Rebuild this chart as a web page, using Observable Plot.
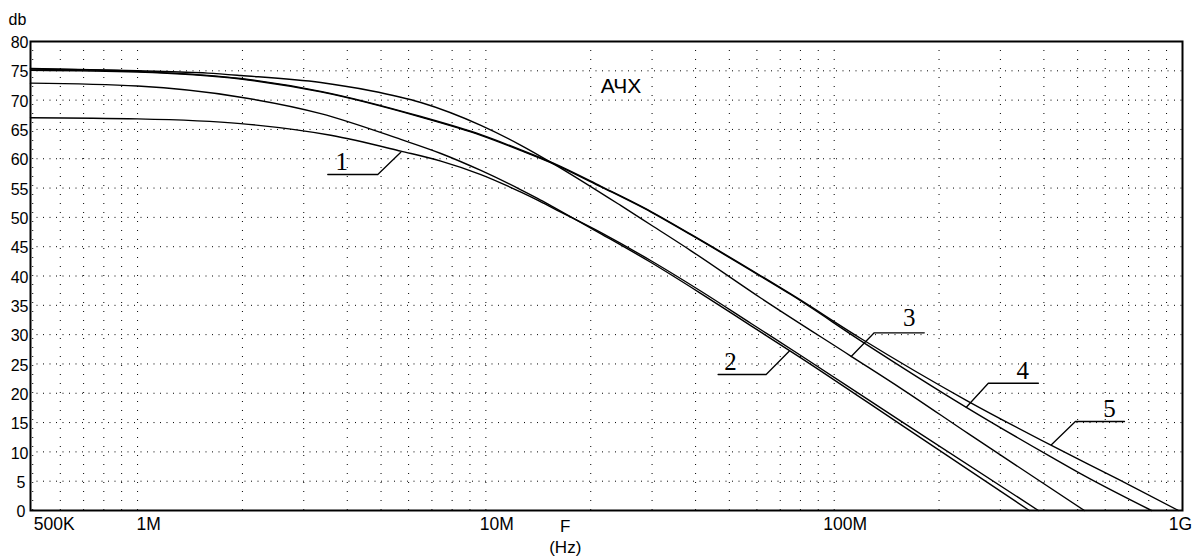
<!DOCTYPE html>
<html>
<head>
<meta charset="utf-8">
<script src="https://cdn.jsdelivr.net/npm/d3@7"></script>
<script src="https://cdn.jsdelivr.net/npm/@observablehq/plot@0.6"></script>
<style>
  html, body { margin: 0; padding: 0; background: #fff; }
  #chart svg { display: block; }
</style>
</head>
<body>
<div id="chart"></div>
<script>
// ---- Data: frequency (Hz), gain (dB) ----
const curve1 = [[4.927e5,67.0],[1e6,66.8],[1.977e6,66.0],[3.586e6,64.0],[5.698e6,61.3],[7.426e6,59.6],[9.674e6,57.3],[1.261e7,54.3],[1.411e7,52.9],[1.568e7,51.5],[2.141e7,47.4],[2.980e7,42.6],[4.147e7,37.4],[5.774e7,31.9],[8.040e7,26.4],[1.558e8,15.2],[3.857e8,0]];
const curve2 = [[4.927e5,72.9],[1e6,72.4],[1.977e6,70.5],[3.357e6,67.7],[5.698e6,63.3],[7.426e6,60.9],[9.674e6,58.0],[1.261e7,54.7],[1.411e7,53.2],[1.568e7,51.7],[2.141e7,47.2],[2.980e7,42.3],[4.147e7,37.0],[5.774e7,31.5],[8.040e7,26.0],[1.558e8,14.6],[3.634e8,0]];
const curve3 = [[4.927e5,75.4],[1e6,75.0],[1.589e6,74.6],[1.977e6,74.2],[3.357e6,73.0],[4.672e6,71.6],[6.505e6,69.6],[9.674e6,65.7],[1.261e7,62.3],[1.568e7,59.1],[2.443e7,52.0],[2.980e7,48.7],[3.882e7,44.3],[6.169e7,36.2],[1.119e8,26.3],[1.558e8,20.8],[2.427e8,13.1],[5.228e8,0]];
const curve4 = [[4.927e5,75.1],[1e6,74.8],[1.977e6,73.6],[3.357e6,71.4],[6.505e6,67.1],[9.674e6,64.0],[1.261e7,61.4],[1.568e7,59.1],[2.141e7,55.2],[2.980e7,50.9],[3.882e7,47.0],[6.169e7,39.9],[7.521e7,36.8],[1.196e8,28.9],[2.395e8,17.6],[4.204e8,9.1],[5.125e8,6.2],[8.145e8,0]];
const curve5 = [[4.927e5,75.3],[1e6,74.9],[1.977e6,73.7],[3.357e6,71.5],[6.505e6,67.2],[9.674e6,64.1],[1.261e7,61.5],[1.568e7,59.2],[2.141e7,55.3],[2.980e7,51.0],[3.882e7,47.1],[6.169e7,40.0],[7.521e7,36.9],[1.196e8,29.3],[2.395e8,18.8],[4.204e8,11.1],[6.550e8,5.3],[9.739e8,0]];

// curve labels and their leader lines (data coordinates)
const labelNames = ["1","2","3","4","5"];
const labelPos = [[3.855e6,59.45],[5.042e7,25.33],[1.643e8,32.92],[3.481e8,23.80],[6.17e8,17.31]];
const leaders = [
  [[3.516e6,57.31],[4.894e6,57.31],[5.698e6,61.12]],
  [[4.642e7,23.20],[6.377e7,23.20],[7.425e7,27.17]],
  [[1.814e8,30.31],[1.303e8,30.31],[1.119e8,26.27]],
  [[3.857e8,21.71],[2.770e8,21.71],[2.395e8,17.62]],
  [[6.815e8,15.18],[4.925e8,15.18],[4.204e8,11.21]]
];

// axes
const xDomain = [4.927e5, 1e9];
const yDomain = [0, 80];
const xLabelValues = [5e5, 1e6, 1e7, 1e8, 1e9];
const xLabelTexts = ["500K", "1M", "10M", "100M", "1G"];
const yTicks = d3.range(0, 81, 5);
const xGrid = [];
for (let m = 5; m <= 9; m++) xGrid.push(m * 1e5);
for (const dec of [1e6, 1e7, 1e8]) for (let m = 1; m <= 9; m++) xGrid.push(m * dec);
xGrid.push(1e9);
const titleText = "АЧХ";
const titlePos = [2.443e7, 72.3];

const xl = xLabelValues.map((v, i) => ({v, t: xLabelTexts[i]}));

const chart = Plot.plot({
  width: 1199,
  height: 559,
  marginLeft: 30,
  marginRight: 17,
  marginTop: 41,
  marginBottom: 49,
  x: {type: "log", domain: xDomain, axis: null},
  y: {domain: yDomain, axis: null},
  style: {fontFamily: "'Liberation Sans', Arial, sans-serif", background: "#fff", color: "#000"},
  marks: [
    Plot.ruleX(xGrid, {stroke: "#000", strokeWidth: 1, strokeDasharray: "1,8"}),
    Plot.ruleY(yTicks.filter(d => d > 0 && d < 80), {stroke: "#000", strokeWidth: 1, strokeDasharray: "1,5.5"}),
    ...[curve1, curve2, curve3, curve4, curve5].map(c =>
      Plot.line(c, {x: d => d[0], y: d => d[1], stroke: "#000", strokeWidth: 1.4, curve: "monotone-x"})),
    ...leaders.map(l => Plot.line(l, {x: d => d[0], y: d => d[1], stroke: "#000", strokeWidth: 1.3})),
    Plot.text(labelNames, {x: (d, i) => labelPos[i][0], y: (d, i) => labelPos[i][1], text: d => d,
      fontFamily: "'Liberation Serif', 'Times New Roman', serif", fontSize: 25, textAnchor: "middle", lineAnchor: "middle", fill: "#000"}),
    Plot.text([titleText], {x: () => titlePos[0], y: () => titlePos[1], text: d => d, fontSize: 21, textAnchor: "middle", lineAnchor: "middle", fill: "#000"}),
    Plot.frame({stroke: "#000", strokeWidth: 2}),
    // y tick labels
    Plot.text(yTicks.filter(d => d >= 10), {x: () => xDomain[0], y: d => d, text: d => String(d), textAnchor: "end", dx: -2, dy: 1.5, fontSize: 16, fill: "#000", clip: false}),
    Plot.text(yTicks.filter(d => d < 10), {x: () => xDomain[0], y: d => d, text: d => String(d), textAnchor: "end", dx: -5, dy: 1.5, fontSize: 16, fill: "#000", clip: false}),
    // x tick labels
    Plot.text(xl.slice(0, 1), {x: "v", text: "t", frameAnchor: "bottom", lineAnchor: "top", textAnchor: "start", dx: 1, dy: 7, fontSize: 17.5, fill: "#000"}),
    Plot.text(xl.slice(1, 4), {x: "v", text: "t", frameAnchor: "bottom", lineAnchor: "top", textAnchor: "middle", dx: 11, dy: 7, fontSize: 17.5, fill: "#000"}),
    Plot.text(xl.slice(4), {x: "v", text: "t", frameAnchor: "bottom", lineAnchor: "top", textAnchor: "middle", dx: -2, dy: 7, fontSize: 17.5, fill: "#000"}),
    // axis titles
    Plot.text(["F"], {x: () => 1.69e7, text: d => d, frameAnchor: "bottom", lineAnchor: "top", textAnchor: "middle", dy: 9, fontSize: 17, fill: "#000"}),
    Plot.text(["(Hz)"], {x: () => 1.69e7, text: d => d, frameAnchor: "bottom", lineAnchor: "top", textAnchor: "middle", dy: 30, fontSize: 17, fill: "#000"}),
    Plot.text(["db"], {frameAnchor: "top-left", text: d => d, textAnchor: "start", lineAnchor: "top", dx: -22, dy: -28, fontSize: 16, fill: "#000"})
  ]
});
document.getElementById("chart").appendChild(chart);
</script>
</body>
</html>
